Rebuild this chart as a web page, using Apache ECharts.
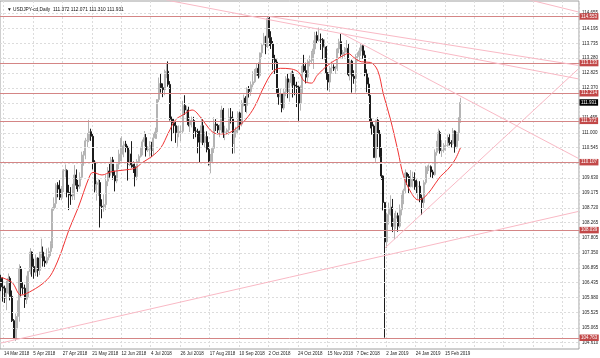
<!DOCTYPE html>
<html><head><meta charset="utf-8">
<script src="https://cdn.jsdelivr.net/npm/echarts@6/dist/echarts.min.js"></script>
<style>html,body{margin:0;padding:0;background:#fff}#c{width:600px;height:358px}</style>
</head><body><div id="c"></div>
<script>
const chartTitle = '▼ USDJPY-cd,Daily  111.372 112.071 111.310 111.931';
const xTickLabels = ['14 Mar 2018','5 Apr 2018','27 Apr 2018','21 May 2018','12 Jun 2018','4 Jul 2018','26 Jul 2018','17 Aug 2018','10 Sep 2018','2 Oct 2018','24 Oct 2018','15 Nov 2018','7 Dec 2018','2 Jan 2019','24 Jan 2019','15 Feb 2019'];
const yTickLabels = ['114.655','114.195','113.735','113.280','112.825','112.370','111.910','111.455','111.000','110.545','110.090','109.630','109.175','108.720','108.265','107.805','107.350','106.895','106.435','105.980','105.525','105.065','104.610'];
const startDate = '2018-03-14';
const holidays = ['2018-12-25','2019-01-01'];
const slotCount = 315;
const yMin = 104.418, yMax = 115.021;
// daily bars: [open, high, low, close]
const candles = [
[106.57,106.68,106.18,106.31],[106.31,106.60,105.86,106.27],[106.27,106.35,105.82,105.97],[105.97,106.50,105.60,106.12],[106.12,106.72,106.08,106.57],
[106.57,106.63,105.90,106.02],[106.02,106.20,105.24,105.28],[105.28,105.33,104.72,104.75],[104.75,105.50,104.66,105.40],[105.40,105.90,105.02,105.41],
[105.41,107.00,105.25,106.86],[106.86,106.94,106.02,106.28],[106.28,106.45,106.08,106.27],[106.27,106.38,105.67,105.93],[105.93,106.65,105.79,106.63],
[106.63,106.80,105.99,106.78],[106.78,107.49,106.69,107.37],[107.37,107.39,106.62,106.93],[106.93,107.17,106.56,106.76],[106.76,107.30,106.64,107.19],
[107.19,107.21,106.62,106.81],[106.81,107.38,106.67,107.34],[107.34,107.78,107.19,107.37],[107.37,107.54,106.93,107.10],[107.10,107.24,106.92,107.04],
[107.04,107.48,106.99,107.21],[107.21,107.51,107.12,107.39],[107.39,107.70,107.25,107.64],[107.64,108.74,107.49,108.69],[108.69,109.04,108.63,108.85],
[108.85,109.47,108.72,109.41],[109.41,109.50,109.04,109.29],[109.29,109.56,108.96,109.04],[109.04,109.38,108.95,109.34],[109.34,109.90,109.20,109.85],
[109.85,110.04,109.65,109.86],[109.86,109.89,109.04,109.19],[109.19,109.42,108.65,109.11],[109.11,109.35,108.81,109.08],[109.08,109.45,108.96,109.11],
[109.11,110.02,108.96,109.72],[109.72,109.89,109.29,109.41],[109.41,109.57,109.21,109.38],[109.38,109.80,109.30,109.65],[109.65,110.43,109.58,110.33],
[110.33,110.45,110.00,110.33],[110.33,110.85,110.20,110.76],[110.76,111.00,110.57,110.78],[110.78,111.40,110.72,111.04],[111.04,111.13,110.76,110.90],
[110.90,110.97,109.89,110.11],[110.11,110.17,109.19,109.27],[109.27,109.55,108.94,109.43],[109.43,109.60,109.08,109.49],[109.49,109.57,108.12,108.77],
[108.77,108.98,108.40,108.75],[108.75,109.13,108.60,108.82],[108.82,109.73,108.65,109.53],[109.53,109.96,109.38,109.84],[109.84,110.10,109.64,109.78],
[109.78,110.27,109.70,110.18],[110.18,110.27,109.58,109.70],[109.70,109.85,109.22,109.54],[109.54,110.10,109.47,110.05],[110.05,110.49,109.90,110.35],
[110.35,110.85,110.14,110.35],[110.35,110.90,110.14,110.61],[110.61,110.75,110.26,110.66],[110.66,110.76,110.41,110.56],[110.56,110.61,109.55,110.05],
[110.05,110.49,109.99,110.36],[110.36,110.75,109.94,110.03],[110.03,110.13,109.78,109.97],[109.97,110.07,109.37,109.67],[109.67,110.20,109.56,110.13],
[110.13,110.35,110.08,110.29],[110.29,110.58,110.25,110.48],[110.48,110.80,110.32,110.73],[110.73,111.06,110.60,110.86],[110.86,111.00,110.28,110.48],
[110.48,110.60,110.42,110.51],[110.51,110.75,110.28,110.63],[110.63,110.73,110.27,110.47],[110.47,110.97,110.33,110.85],[110.85,111.16,110.82,111.03],
[111.03,112.03,110.82,112.02],[112.02,112.69,111.94,112.51],[112.51,112.80,112.23,112.38],[112.38,112.51,112.09,112.32],[112.32,112.93,112.15,112.87],
[112.87,113.13,112.67,112.88],[112.88,113.18,112.41,112.48],[112.48,112.58,111.38,111.42],[111.42,111.50,110.75,111.31],[111.31,111.45,110.97,111.22],
[111.22,111.35,110.70,110.99],[110.99,111.21,110.58,111.00],[111.00,111.23,110.87,111.05],[111.05,111.22,110.75,111.05],[111.05,111.98,110.99,111.84],
[111.84,112.15,111.55,111.70],[111.70,111.83,111.35,111.70],[111.70,111.80,111.20,111.25],[111.25,111.49,111.03,111.38],[111.38,111.50,111.17,111.38],
[111.38,111.49,110.82,111.06],[111.06,111.18,110.87,111.05],[111.05,111.13,110.38,110.88],[110.88,111.07,110.10,110.72],[110.72,111.48,110.69,111.22],
[111.22,111.42,110.63,110.71],[110.71,111.04,110.55,110.89],[110.89,111.05,110.41,110.50],[110.50,110.72,110.01,110.05],[110.05,110.36,109.77,110.13],
[110.13,110.58,110.09,110.53],[110.53,111.48,110.39,111.27],[111.27,111.42,111.06,111.23],[111.23,111.28,110.96,111.09],[111.09,111.26,110.87,111.19],
[111.19,111.83,111.00,111.70],[111.70,111.76,110.85,111.02],[111.02,111.22,110.78,111.03],[111.03,111.14,110.96,111.09],[111.09,111.75,110.94,111.48],
[111.48,111.76,111.29,111.45],[111.45,111.66,110.37,110.69],[110.69,111.09,110.38,111.02],[111.02,111.19,110.86,111.09],[111.09,111.66,110.96,111.61],
[111.61,111.65,111.10,111.27],[111.27,112.00,111.20,111.91],[111.91,112.17,111.81,112.06],[112.06,112.12,111.64,111.84],[111.84,112.39,111.60,112.34],
[112.34,112.43,112.08,112.26],[112.26,112.57,112.13,112.47],[112.47,112.88,112.39,112.56],[112.56,112.95,112.52,112.83],[112.83,113.12,112.74,112.97],
[112.97,113.14,112.66,112.75],[112.75,113.45,112.69,113.44],[113.44,113.70,113.31,113.68],[113.68,114.05,113.68,113.93],[113.93,113.96,113.40,113.64],
[113.64,114.55,113.59,114.49],[114.49,114.55,113.65,113.91],[113.91,114.10,113.56,113.72],[113.72,113.80,112.92,113.25],[113.25,113.38,112.80,113.16],
[113.16,113.24,112.21,112.23],[112.23,112.36,111.86,112.10],[112.10,112.35,111.85,112.19],[112.19,112.20,111.63,111.76],[111.76,112.35,111.70,112.25],
[112.25,112.73,112.12,112.65],[112.65,112.80,112.06,112.27],[112.27,112.64,111.95,112.53],[112.53,112.89,112.42,112.83],[112.83,112.90,112.08,112.46],
[112.46,112.71,112.15,112.43],[112.43,112.56,111.79,112.40],[112.40,112.44,111.37,111.91],[111.91,112.45,111.68,112.37],[112.37,113.09,112.19,113.04],
[113.04,113.38,112.85,112.90],[112.90,113.14,112.51,112.70],[112.70,113.24,112.55,113.18],[113.18,113.36,113.03,113.21],[113.21,113.50,113.10,113.46],
[113.46,113.82,112.95,113.56],[113.56,114.08,113.40,113.97],[113.97,114.09,113.72,113.82],[113.82,114.21,113.78,113.85],[113.85,114.03,113.53,113.84],
[113.84,113.89,113.25,113.61],[113.61,113.85,113.22,113.62],[113.62,113.65,112.62,112.83],[112.83,112.86,112.30,112.55],[112.55,113.04,112.25,112.98],
[112.98,113.18,112.81,113.01],[113.01,113.09,112.89,112.95],[112.95,113.04,112.80,112.96],[112.96,113.59,112.89,113.56],[113.56,113.87,113.43,113.78],
[113.78,114.03,113.33,113.40],[113.40,113.53,113.26,113.46],[113.46,113.62,113.31,113.56],[113.56,113.83,113.45,113.58],[113.58,113.71,112.73,112.78],
[112.78,113.25,112.60,113.19],[113.19,113.23,112.23,112.73],[112.73,112.91,112.50,112.66],[112.66,113.40,112.23,113.33],[113.33,113.46,113.18,113.37],
[113.37,113.60,113.21,113.50],[113.50,113.71,113.35,113.66],[113.66,113.67,113.26,113.37],[113.37,113.51,112.73,112.80],[112.80,112.94,112.24,112.49],
[112.49,112.69,112.14,112.14],[112.14,112.16,111.14,111.35],[111.35,111.44,110.95,111.21],[111.21,111.26,110.25,110.25],[110.25,111.40,110.12,111.39],
[111.39,111.47,110.52,110.99],[110.99,111.09,110.26,110.28],[110.28,110.56,109.57,109.69],[109.69,109.71,108.64,108.88],[108.88,108.90,104.763,107.68],
[107.68,108.57,107.49,108.52],[108.52,108.88,108.21,108.71],[108.71,109.10,108.48,108.74],[108.74,108.99,107.98,108.15],[108.15,108.56,107.76,108.40],
[108.40,108.63,108.07,108.48],[108.48,108.57,107.99,108.16],[108.16,108.82,108.10,108.66],[108.66,109.12,108.49,108.97],[108.97,109.30,108.83,109.24],
[109.24,109.89,109.17,109.78],[109.78,109.80,109.42,109.67],[109.67,109.75,109.16,109.37],[109.37,109.87,109.34,109.59],[109.59,109.82,109.34,109.64],
[109.64,109.80,109.27,109.55],[109.55,109.58,109.17,109.36],[109.36,109.53,108.97,109.38],[109.38,109.53,108.89,109.02],[109.02,109.12,108.50,108.88],
[108.88,109.56,108.72,109.49],[109.49,110.00,109.43,109.93],[109.93,110.01,109.75,109.96],[109.96,110.04,109.84,109.97],[109.97,110.01,109.65,109.81],
[109.81,109.88,109.63,109.73],[109.73,110.50,109.70,110.41],[110.41,110.76,110.31,110.47],[110.47,111.13,110.45,111.01],[111.01,111.07,110.37,110.46],
[110.46,110.78,110.27,110.48],[110.48,110.69,110.40,110.62],[110.62,110.78,110.46,110.62],[110.62,110.95,110.58,110.86],[110.86,110.96,110.62,110.71],
[110.71,110.78,110.56,110.68],[110.68,111.15,110.64,111.06],[111.06,111.08,110.40,110.58],[110.58,111.04,110.52,111.01],[111.01,111.48,110.76,111.39],
[111.372,112.071,111.310,111.931]
];
// moving average: [bar index, value]
const maPoints = [[0,106.6],[6,106.45],[11,106.06],[17,106.2],[24,106.47],[28,106.75],[33,107.4],[37,108.05],[42,108.72],[48,109.65],[50,109.8],[55,109.72],[60,109.82],[67,109.87],[73,109.93],[77,110.1],[82,110.28],[87,110.55],[91,110.99],[95,111.4],[99,111.55],[104,111.7],[109,111.45],[113,111.15],[117,110.98],[122,110.97],[127,111.1],[133,111.4],[138,111.8],[143,112.4],[148,112.87],[152,112.97],[158,112.95],[162,112.85],[165,112.58],[169,112.52],[172,112.75],[178,113.07],[185,113.32],[189,113.42],[192,113.3],[196,113.17],[201,113.15],[205,112.9],[208,112.2],[212,111.4],[216,110.45],[219,109.7],[223,109.2],[227,108.96],[230,109.02],[234,109.27],[239,109.67],[243,109.88],[247,110.18],[250,110.55]];
const levels = [114.553, 113.133, 112.214, 111.372, 110.107, 108.039, 104.763];
const lastPrice = 111.931;
// trend lines: [[bar index, price], [bar index, price]]
const trendLines = [
  [[90,115.05],[314,112.65]],
  [[146,114.55],[314,113.06]],
  [[280,115.16],[314,114.69]],
  [[185,114.046],[314,110.23]],
  [[209,107.5],[314,112.945]],
  [[0,104.60],[314,108.607]]
];

// categories: trading days (weekdays without the listed holidays)
const dates = [];
{
  let d = new Date(startDate + 'T00:00:00Z');
  while (dates.length < slotCount) {
    const s = d.toISOString().slice(0,10);
    const wd = d.getUTCDay();
    if (wd !== 0 && wd !== 6 && holidays.indexOf(s) < 0) dates.push(s);
    d = new Date(d.getTime() + 86400000);
  }
}
const FONT = 'Liberation Sans';
const chart = echarts.init(document.getElementById('c'), null, {renderer:'canvas'});
const series = [];
series.push({
  type:'line', data:[], silent:true, z:1,
  markLine:{ silent:true, symbol:['none','none'], animation:false,
    lineStyle:{color:'#dcdcdc', type:[2,2], width:1},
    data: yTickLabels.map(t => ({yAxis: parseFloat(t),
      label:{show:true, formatter:t, position:'end', distance:3, fontSize:4.5, color:'#222', fontFamily:FONT}}))
  }
});
series.push({
  type:'candlestick', z:3, barWidth:1.5,
  data: candles.map(r => [r[0], r[3], r[2], r[1]]),
  itemStyle:{color:'#c6c6c6', color0:'#1c1c1c', borderColor:'#b4b4b4', borderColor0:'#1c1c1c', borderWidth:1}
});
series.push({
  type:'line', z:4, data: maPoints, smooth:0.35, showSymbol:false, silent:true,
  lineStyle:{color:'#f03434', width:1}
});
trendLines.forEach(tl => series.push({
  type:'line', z:5, data: tl, showSymbol:false, silent:true,
  lineStyle:{color:'#f9b9c5', width:1}
}));
const levelLabel = (txt, bg) => ({show:true, formatter:txt, position:'end', distance:0.5, fontSize:4.5, color:'#fff',
  backgroundColor:bg, padding:[1,1.5,0.5,1.5], fontFamily:FONT});
series.push({
  type:'line', data:[], silent:true, z:8,
  markLine:{ silent:true, symbol:['none','none'], animation:false,
    lineStyle:{color:'#d48585', type:'solid', width:1},
    data: levels.map(v => ({yAxis:v, lineStyle:{color:'#d48585'}, label: levelLabel(v.toFixed(3), '#c24848')}))
      .concat([{yAxis:lastPrice, lineStyle:{color:'rgba(0,0,0,0)', width:0}, label: levelLabel(lastPrice.toFixed(3), '#000')}])
  }
});
chart.setOption({
  animation:false,
  backgroundColor:'#fff',
  title:{text:chartTitle, left:2, top:2, textStyle:{fontSize:4.8, fontWeight:'normal', color:'#111', fontFamily:FONT}},
  grid:{left:-2, right:21, top:1, bottom:9, show:true, borderColor:'#a0a0a0', borderWidth:1},
  xAxis:{type:'category', data:dates, boundaryGap:true,
    axisLine:{show:false}, axisTick:{show:false},
    splitLine:{show:true, interval:(i) => i % 16 === 2, lineStyle:{color:'#dcdcdc', type:[2,2], width:1}},
    axisLabel:{interval:(i) => i % 16 === 0 && i / 16 < xTickLabels.length,
      formatter:(v, i) => xTickLabels[i / 16] || '', align:'left', fontSize:4.5, color:'#222',
      margin:2, padding:[0,0,0,3], fontFamily:FONT}
  },
  yAxis:{type:'value', min:yMin, max:yMax, axisLabel:{show:false}, splitLine:{show:false},
    axisLine:{show:false}, axisTick:{show:false}},
  series: series
});
</script></body></html>
